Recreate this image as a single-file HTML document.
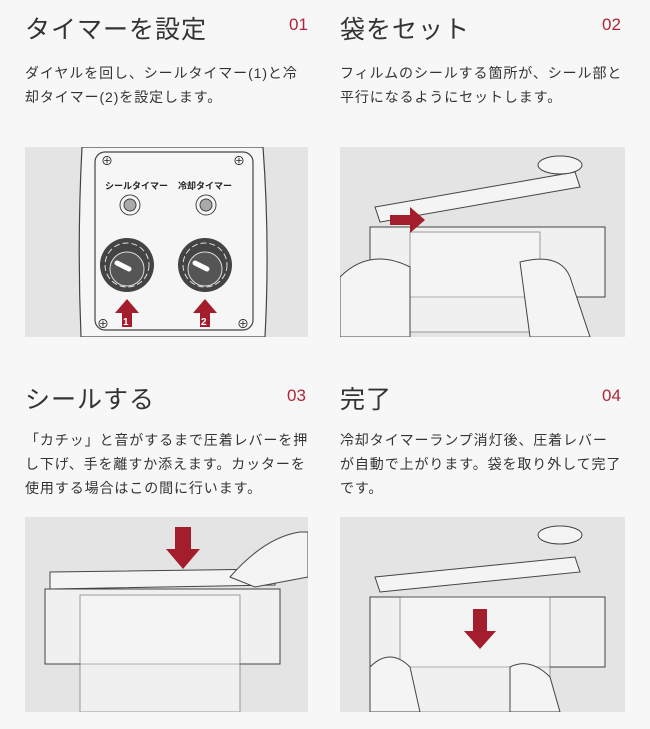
<!DOCTYPE html><html><head><meta charset="utf-8"><style>
body{margin:0;width:650px;height:729px;background:#f7f7f7;position:relative;overflow:hidden;font-family:"Liberation Sans","Noto Sans CJK JP",sans-serif;color:#333}
.t{position:absolute;font-size:25px;line-height:30px;letter-spacing:1px;color:#333}
.n{position:absolute;font-size:17px;color:#b0243a;line-height:20px}
.p{position:absolute;font-size:14px;line-height:24px;white-space:nowrap;letter-spacing:0.9px;color:#333}
svg{position:absolute}
</style></head><body>
<div class="t" style="left:25px;top:15px">タイマーを設定</div><div class="n" style="left:289px;top:15px">01</div>
<div class="p" style="left:25px;top:61px">ダイヤルを回し、シールタイマー(1)と冷<br>却タイマー(2)を設定します。</div>
<div class="t" style="left:340px;top:15px">袋をセット</div><div class="n" style="left:602px;top:15px">02</div>
<div class="p" style="left:340px;top:61px">フィルムのシールする箇所が、シール部と<br>平行になるようにセットします。</div>
<div class="t" style="left:25px;top:385px">シールする</div><div class="n" style="left:287px;top:386px">03</div>
<div class="p" style="left:25px;top:428px">「カチッ」と音がするまで圧着レバーを押<br>し下げ、手を離すか添えます。カッターを<br>使用する場合はこの間に行います。</div>
<div class="t" style="left:340px;top:385px">完了</div><div class="n" style="left:602px;top:386px">04</div>
<div class="p" style="left:340px;top:428px">冷却タイマーランプ消灯後、圧着レバー<br>が自動で上がります。袋を取り外して完了<br>です。</div>

<svg style="left:25px;top:147px" width="283" height="190" viewBox="0 0 283 190">
<rect width="283" height="190" fill="#e4e4e4"/>
<path d="M57 0 Q52 95 56 190 L240 190 Q245 95 238 0Z" fill="#f6f6f6" stroke="#444" stroke-width="1.2"/>
<rect x="70" y="5" width="158" height="178" rx="10" fill="#f6f6f6" stroke="#444" stroke-width="1.2"/>
<g font-size="9" font-weight="bold" fill="#222"><text x="80" y="42">シールタイマー</text><text x="153" y="42">冷却タイマー</text></g>
<circle cx="105" cy="58" r="10" fill="none" stroke="#444"/><circle cx="105" cy="58" r="6" fill="#aaa" stroke="#444"/>
<circle cx="181" cy="58" r="10" fill="none" stroke="#444"/><circle cx="181" cy="58" r="6" fill="#aaa" stroke="#444"/>
<g fill="#444"><circle cx="102" cy="118" r="27"/><circle cx="180" cy="118" r="27"/></g>
<g fill="none" stroke="#ddd" stroke-dasharray="6 3"><circle cx="102" cy="118" r="22"/><circle cx="180" cy="118" r="22"/></g>
<g fill="#555" stroke="#ddd"><circle cx="102" cy="122" r="17"/><circle cx="180" cy="122" r="17"/></g>
<g stroke="#fff" stroke-width="5" stroke-linecap="round"><line x1="92" y1="116" x2="104" y2="122"/><line x1="170" y1="116" x2="182" y2="122"/></g>
<g fill="#a31d2c"><path d="M97 180h10v-14h7l-12-14-12 14h7z"/><path d="M175 180h10v-14h7l-12-14-12 14h7z"/></g>
<g font-size="10" font-weight="bold" fill="#fff"><text x="98" y="178">1</text><text x="176" y="178">2</text></g>
<g font-size="12" fill="#222"><text x="76" y="18">⊕</text><text x="208" y="18">⊕</text><text x="72" y="181">⊕</text><text x="212" y="181">⊕</text></g>
</svg>

<svg style="left:340px;top:147px" width="285" height="190" viewBox="0 0 285 190">
<rect width="285" height="190" fill="#e4e4e4"/>
<path d="M35 60 L235 25 L240 40 L40 75Z" fill="#f4f4f4" stroke="#444"/>
<ellipse cx="220" cy="18" rx="22" ry="9" fill="#f4f4f4" stroke="#444"/>
<rect x="30" y="80" width="235" height="70" fill="#f0f0f0" stroke="#444"/>
<rect x="70" y="85" width="130" height="100" fill="#f8f8f8" opacity=".6" stroke="#666"/>
<path d="M50 68h20v-8l15 13-15 13v-8H50z" fill="#a31d2c"/>
<path d="M0 130 Q30 100 70 120 L70 190 L0 190Z" fill="#f4f4f4" stroke="#444"/>
<path d="M180 115 Q220 105 230 130 L250 190 L190 190Z" fill="#f4f4f4" stroke="#444"/>
</svg>

<svg style="left:25px;top:517px" width="283" height="195" viewBox="0 0 283 195">
<rect width="283" height="195" fill="#e4e4e4"/>
<path d="M25 55 L250 52 L250 68 L25 72Z" fill="#f4f4f4" stroke="#444"/>
<rect x="20" y="72" width="235" height="75" fill="#f0f0f0" stroke="#444"/>
<rect x="55" y="78" width="160" height="117" fill="#f8f8f8" opacity=".6" stroke="#666"/>
<path d="M150 10h16v22h9l-17 20-17-20h9z" fill="#a31d2c"/>
<path d="M205 60 Q240 20 275 15 L283 15 L283 60 L230 70Z" fill="#f4f4f4" stroke="#444"/>
</svg>

<svg style="left:340px;top:517px" width="285" height="195" viewBox="0 0 285 195">
<rect width="285" height="195" fill="#e4e4e4"/>
<path d="M35 60 L235 40 L240 55 L40 75Z" fill="#f4f4f4" stroke="#444"/>
<ellipse cx="220" cy="18" rx="22" ry="9" fill="#f4f4f4" stroke="#444"/>
<rect x="30" y="80" width="235" height="70" fill="#f0f0f0" stroke="#444"/>
<rect x="60" y="80" width="150" height="115" fill="#f8f8f8" opacity=".6" stroke="#666"/>
<path d="M133 92h14v22h9l-16 18-16-18h9z" fill="#a31d2c"/>
<path d="M30 150 Q50 130 70 150 L80 195 L30 195Z" fill="#f4f4f4" stroke="#444"/>
<path d="M170 150 Q190 140 210 160 L220 195 L170 195Z" fill="#f4f4f4" stroke="#444"/>
</svg>
</body></html>
